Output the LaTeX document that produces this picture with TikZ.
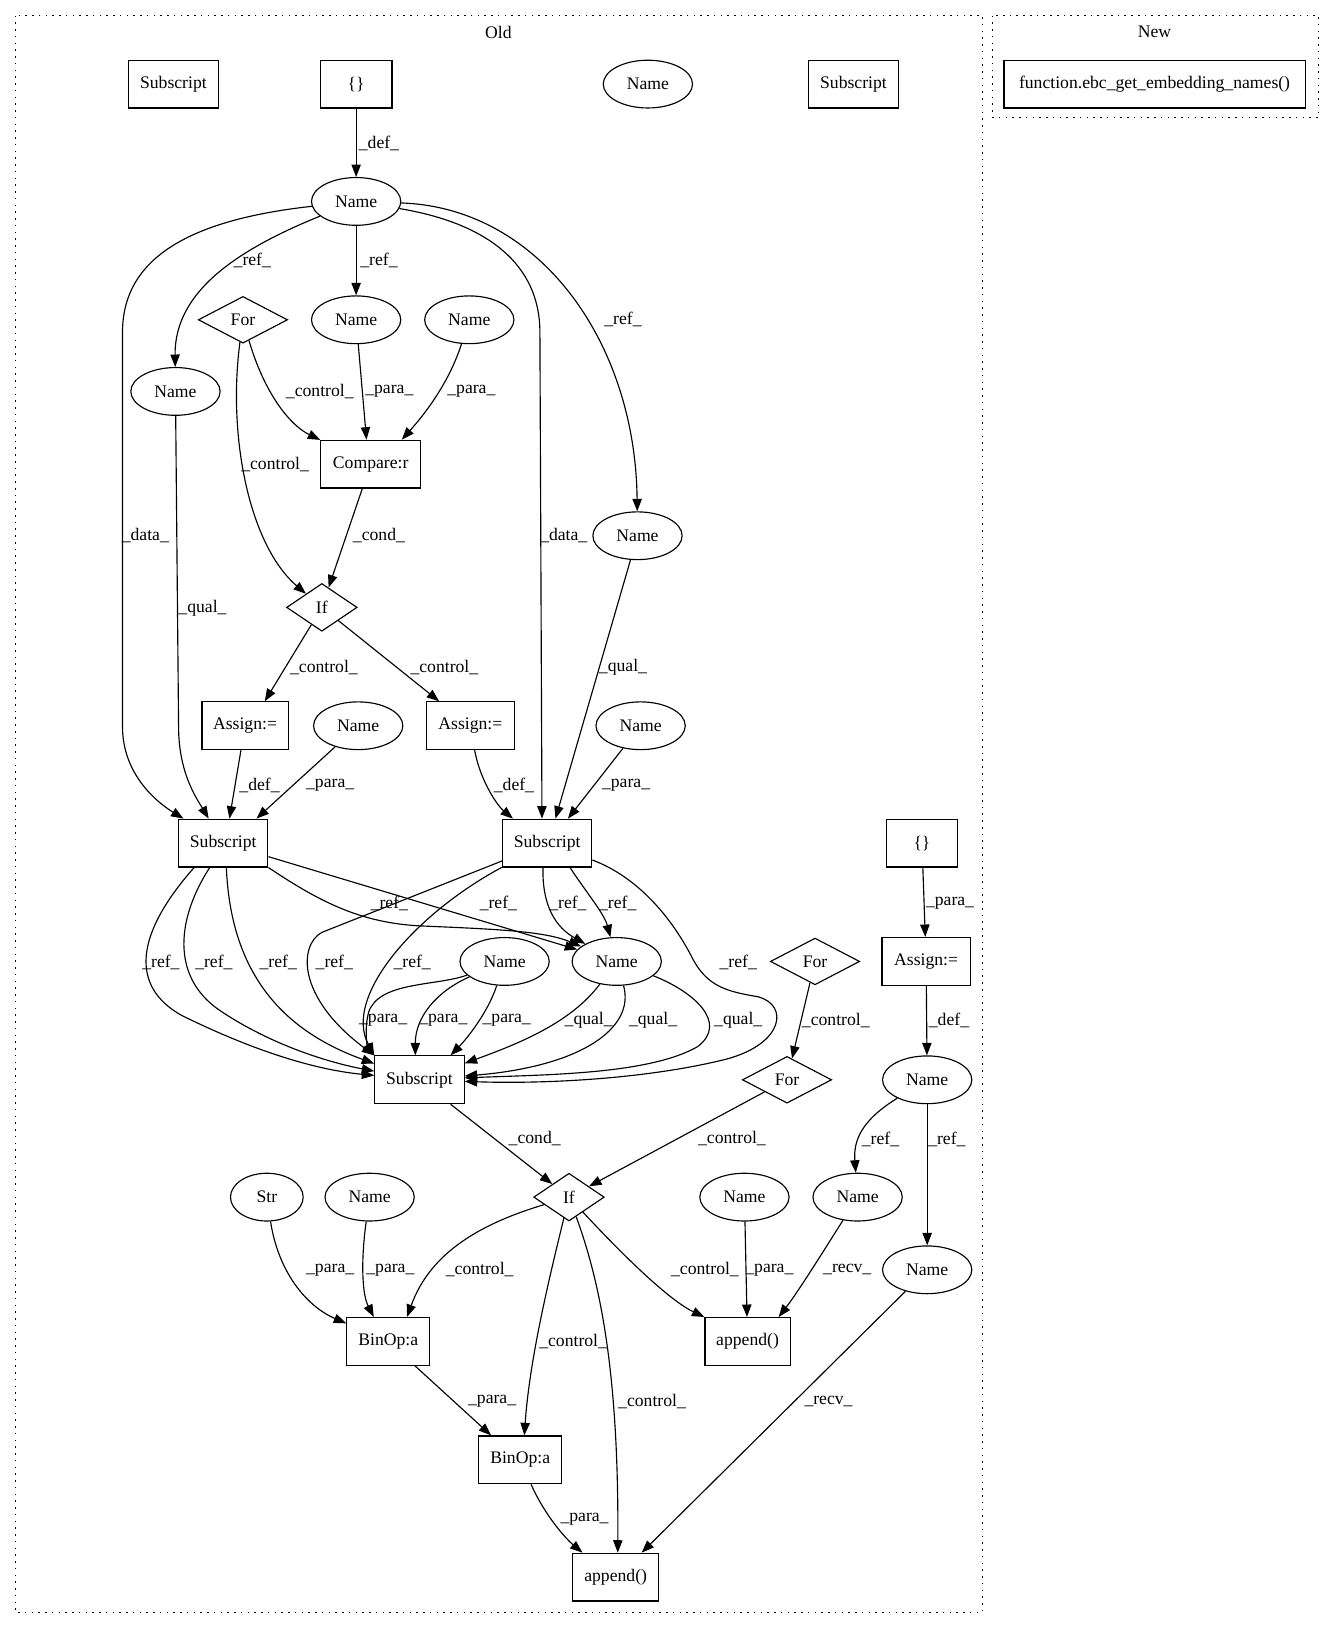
\documentclass[tikz,border=0pt]{standalone}
\usepackage{fontspec}
\setmainfont{Liberation Serif}
\usetikzlibrary{shapes.geometric,arrows.meta}
\begin{document}
\begin{tikzpicture}[x=1pt,y=-1pt,line width=1.1pt,
  font=\fontsize{17}{20}\selectfont,
  box/.style={draw,rectangle,minimum height=46pt,inner sep=0pt},
  ell/.style={draw,ellipse,minimum width=86pt,minimum height=46pt,inner sep=0pt},
  dia/.style={draw,diamond,minimum width=86pt,minimum height=45pt,inner sep=0pt},
  ed/.style={-{Triangle[length=12pt,width=9pt]}},
  lab/.style={inner sep=0pt},
  clus/.style={draw,dash pattern=on 1.5pt off 5pt}]
\useasboundingbox (0,0) rectangle (1283,1568);
% clusters
\draw[clus] (15,15) rectangle (946,1553);
\draw[clus] (956,15) rectangle (1270,113);
\node[lab] (old) at (480,31) {Old};
\node[lab] (new) at (1112,31) {New};
% nodes
\node[box,minimum width=290pt] (fn) at (1112,81) {function.ebc\_get\_embedding\_names()};
\node[box,minimum width=87pt] (sub1) at (167,81) {Subscript};
\node[box,minimum width=69pt] (br1) at (343,81) {\{\}};
\node[ell] (nmA) at (624,81) {Name};
\node[box,minimum width=87pt] (sub2) at (822,81) {Subscript};
\node[ell] (n0) at (343,194) {Name};
\node[dia] (forA) at (234,308) {For};
\node[ell] (n1) at (343,308) {Name};
\node[ell] (n2) at (452,308) {Name};
\node[ell] (n3) at (169,377) {Name};
\node[box,minimum width=96pt] (cmp) at (357,447) {Compare:r};
\node[ell] (n4) at (614,516) {Name};
\node[dia,minimum width=68pt,minimum height=46pt] (ifA) at (310,585) {If};
\node[box,minimum width=83pt] (asA) at (236,699) {Assign:=};
\node[ell] (n5) at (345,699) {Name};
\node[box,minimum width=85pt] (asB) at (453,699) {Assign:=};
\node[ell] (n6) at (617,699) {Name};
\node[box,minimum width=86pt] (LS) at (215,812) {Subscript};
\node[box,minimum width=86pt] (RS) at (527,812) {Subscript};
\node[box,minimum width=68pt] (br2) at (888,812) {\{\}};
\node[ell] (n7) at (486,926) {Name};
\node[ell] (n8) at (594,926) {Name};
\node[dia] (forB) at (785,926) {For};
\node[box,minimum width=85pt] (asC) at (892,926) {Assign:=};
\node[box,minimum width=86pt] (BS) at (404,1040) {Subscript};
\node[dia] (forC) at (758,1040) {For};
\node[ell] (n9) at (893,1040) {Name};
\node[dia,minimum width=68pt,minimum height=46pt] (ifB) at (548,1153) {If};
\node[ell,minimum width=70pt] (str) at (257,1153) {Str};
\node[ell] (n10) at (356,1153) {Name};
\node[ell] (n11) at (717,1153) {Name};
\node[ell] (n12) at (826,1153) {Name};
\node[ell] (n13) at (893,1223) {Name};
\node[box,minimum width=80pt] (bin1) at (374,1292) {BinOp:a};
\node[box,minimum width=82pt] (app1) at (720,1292) {append()};
\node[box,minimum width=80pt] (bin2) at (501,1406) {BinOp:a};
\node[box,minimum width=83pt] (app2) at (593,1519) {append()};
% edges
\draw[ed] (br1) -- (n0);
\draw[ed] (n0) .. controls (230,240) and (168,280) .. (n3);
\draw[ed] (n0) -- (n1);
\draw[ed] (n0) .. controls (180,212) and (118,250) .. (118,320) -- (118,700) .. controls (118,745) and (150,772) .. (LS);
\draw[ed] (n3) -- (172,700) .. controls (172,745) and (190,770) .. (LS);
\draw[ed] (n0) .. controls (470,215) and (520,255) .. (520,320) -- ([xshift=-5pt]RS.north);
\draw[ed] (n0) .. controls (520,200) and (612,330) .. (n4);
\draw[ed] (forA) .. controls (255,380) and (280,410) .. (cmp);
\draw[ed] (n1) -- ([xshift=-4pt]cmp.north);
\draw[ed] (n2) .. controls (432,370) and (408,400) .. ([xshift=30pt]cmp.north);
\draw[ed] (forA) .. controls (219,420) and (240,525) .. (ifA);
\draw[ed] (cmp) -- (ifA);
\draw[ed] (ifA) -- ([xshift=19pt]asA.north);
\draw[ed] (ifA) -- ([xshift=-30pt]asB.north);
\draw[ed] (asA) -- ([xshift=6pt]LS.north);
\draw[ed] (n5) -- ([xshift=32pt]LS.north);
\draw[ed] (asB) .. controls (462,750) and (478,775) .. ([xshift=-33pt]RS.north);
\draw[ed] (n6) -- ([xshift=20pt]RS.north);
\draw[ed] (n4) -- ([xshift=8pt]RS.north);
\draw[ed] (br2) -- (asC);
\draw[ed] (asC) -- (n9);
\draw[ed] (forB) -- (forC);
% LS -> BS
\draw[ed] ([xshift=-28pt]LS.south) .. controls (130,900) and (125,950) .. (175,978) .. controls (240,1010) and (300,1030) .. (BS);
\draw[ed] ([xshift=-13pt]LS.south) .. controls (170,885) and (165,940) .. (210,972) .. controls (255,1003) and (310,1022) .. (BS);
\draw[ed] ([xshift=3pt]LS.south) .. controls (222,930) and (265,990) .. (BS);
% RS -> BS
\draw[ed] (RS) -- (310,898) .. controls (288,910) and (285,960) .. (BS.north west);
\draw[ed] (RS) .. controls (400,880) and (330,960) .. (BS.north west);
\draw[ed] (RS) .. controls (615,845) and (648,885) .. (668,925) .. controls (682,950) and (700,955) .. (730,960) .. controls (760,968) and (755,1005) .. (700,1020) .. controls (620,1040) and (520,1044) .. (BS);
% -> n8
\draw[ed] ([xshift=-4pt]RS.south) .. controls (522,872) and (535,893) .. (n8);
\draw[ed] ([xshift=22pt]RS.south) .. controls (565,860) and (582,880) .. (n8);
\draw[ed] (LS) -- (n8);
\draw[ed] (LS.south east) .. controls (310,870) and (350,890) .. (410,892) .. controls (480,895) and (525,897) .. (n8);
% n7 -> BS
\draw[ed] (n7) .. controls (420,950) and (365,945) .. (355,975) .. controls (350,995) and (355,1010) .. (BS.north west);
\draw[ed] (n7) .. controls (420,955) and (400,980) .. ([xshift=-4pt]BS.north);
\draw[ed] (n7) .. controls (470,975) and (450,1000) .. ([xshift=30pt]BS.north);
% n8 -> BS
\draw[ed] (n8) .. controls (550,985) and (500,1005) .. (BS);
\draw[ed] (n8) .. controls (612,990) and (560,1027) .. (BS);
\draw[ed] (n8) .. controls (668,955) and (702,985) .. (672,1008) .. controls (625,1035) and (525,1035) .. (BS);
% lower part
\draw[ed] (BS) -- (ifB);
\draw[ed] (forC) -- (ifB);
\draw[ed] (n9) .. controls (828,1080) and (822,1100) .. (n12);
\draw[ed] (n9) -- (n13);
\draw[ed] (str) .. controls (268,1225) and (295,1258) .. (bin1);
\draw[ed] (n10) .. controls (348,1210) and (348,1245) .. ([xshift=-14pt]bin1.north);
\draw[ed] (ifB) .. controls (465,1178) and (415,1205) .. ([xshift=18pt]bin1.north);
\draw[ed] (ifB) .. controls (528,1235) and (510,1310) .. ([xshift=4pt]bin2.north);
\draw[ed] (ifB) .. controls (580,1240) and (596,1330) .. ([xshift=2pt]app2.north);
\draw[ed] (ifB) .. controls (615,1225) and (650,1255) .. (app1.north west);
\draw[ed] (n11) -- (app1);
\draw[ed] (n12) .. controls (790,1210) and (768,1245) .. ([xshift=30pt]app1.north);
\draw[ed] (bin1) -- ([xshift=-28pt]bin2.north);
\draw[ed] (bin2) .. controls (525,1460) and (545,1482) .. ([xshift=-32pt]app2.north);
\draw[ed] (n13) -- ([xshift=25pt]app2.north);
% labels
\node[lab] (l1) at (365,138) {\_def\_};
\node[lab] (l2) at (243,251) {\_ref\_};
\node[lab] (l3) at (365,251) {\_ref\_};
\node[lab] (l4) at (600,308) {\_ref\_};
\node[lab] (l5) at (308,377) {\_control\_};
\node[lab] (l6) at (375,377) {\_para\_};
\node[lab] (l7) at (454,377) {\_para\_};
\node[lab] (l8) at (265,447) {\_control\_};
\node[lab] (l9) at (140,516) {\_data\_};
\node[lab] (l10) at (543,516) {\_data\_};
\node[lab] (l11) at (365,516) {\_cond\_};
\node[lab] (l12) at (195,586) {\_qual\_};
\node[lab] (l13) at (312,643) {\_control\_};
\node[lab] (l14) at (428,643) {\_control\_};
\node[lab] (l15) at (600,643) {\_qual\_};
\node[lab] (l16) at (250,756) {\_def\_};
\node[lab] (l17) at (318,756) {\_para\_};
\node[lab] (l18) at (495,756) {\_def\_};
\node[lab] (l19) at (603,756) {\_para\_};
\node[lab] (l20) at (915,870) {\_para\_};
\node[lab] (l21) at (375,870) {\_ref\_};
\node[lab] (l22) at (480,870) {\_ref\_};
\node[lab] (l23) at (547,870) {\_ref\_};
\node[lab] (l24) at (595,870) {\_ref\_};
\node[lab] (l25) at (155,927) {\_ref\_};
\node[lab] (l26) at (206,927) {\_ref\_};
\node[lab] (l27) at (268,927) {\_ref\_};
\node[lab] (l28) at (322,927) {\_ref\_};
\node[lab] (l29) at (397,927) {\_ref\_};
\node[lab] (l30) at (711,927) {\_ref\_};
\node[lab] (l31) at (369,983) {\_para\_};
\node[lab] (l32) at (427,983) {\_para\_};
\node[lab] (l33) at (488,983) {\_para\_};
\node[lab] (l34) at (567,983) {\_qual\_};
\node[lab] (l35) at (629,983) {\_qual\_};
\node[lab] (l36) at (711,983) {\_qual\_};
\node[lab] (l37) at (914,983) {\_def\_};
\node[lab] (l38) at (805,983) {\_control\_};
\node[lab] (l39) at (515,1097) {\_cond\_};
\node[lab] (l40) at (705,1097) {\_control\_};
\node[lab] (l41) at (848,1097) {\_ref\_};
\node[lab] (l42) at (912,1097) {\_ref\_};
\node[lab] (l43) at (318,1223) {\_para\_};
\node[lab] (l44) at (376,1223) {\_para\_};
\node[lab] (l45) at (462,1223) {\_control\_};
\node[lab] (l46) at (679,1223) {\_control\_};
\node[lab] (l47) at (741,1223) {\_para\_};
\node[lab] (l48) at (816,1223) {\_recv\_};
\node[lab] (l49) at (552,1292) {\_control\_};
\node[lab] (l50) at (628,1350) {\_control\_};
\node[lab] (l51) at (474,1350) {\_para\_};
\node[lab] (l52) at (798,1350) {\_recv\_};
\node[lab] (l53) at (563,1463) {\_para\_};
\end{tikzpicture}
\end{document}
